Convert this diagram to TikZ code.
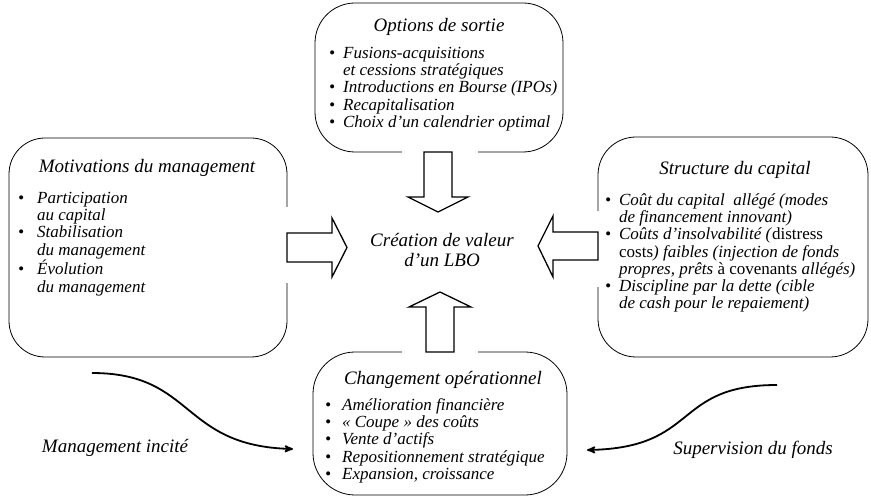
\documentclass[tikz,border=0pt]{standalone}
\usepackage{fontspec}
\setmainfont{Liberation Serif}
\usepackage{tikz}
\usetikzlibrary{arrows,positioning}

\begin{document}
\begin{tikzpicture}[x=1pt,y=-1pt,>=stealth',
  panel/.style={draw,line width=0.8pt,inner sep=0pt},
  titre/.style={inner sep=0pt,font=\fontsize{19}{19}\selectfont\itshape},
  liste/.style={inner sep=0pt,anchor=base west,font=\fontsize{17}{17.2}\selectfont\itshape},
  centre/.style={inner sep=0pt,align=center,font=\fontsize{19}{19.5}\selectfont\itshape},
  fleche/.style={draw,fill=white,line width=1.3pt,line join=miter},
  cache/.style={fill=white,draw=none},
  courbe/.style={->,line width=1.8pt}]
  \useasboundingbox (0,0) rectangle (871,497);

  % les quatre cadres
  \node[panel,rounded corners=40pt,minimum width=248pt,minimum height=149pt] (sortie) at (439,77.5) {};
  \node[panel,rounded corners=36pt,minimum width=278pt,minimum height=219pt] (motiv) at (148,247.5) {};
  \node[panel,rounded corners=38pt,minimum width=270pt,minimum height=220pt] (capital) at (733,247) {};
  \node[panel,rounded corners=42pt,minimum width=254pt,minimum height=143pt] (operat) at (440,423.5) {};

  % ouvertures dans les cadres
  \fill[cache] (402,146) rectangle (478,158);
  \fill[cache] (402,346) rectangle (478,358);
  \fill[cache] (281,207) rectangle (293,283);
  \fill[cache] (592,211) rectangle (604,287);

  % grosses fleches
  \node[centre] (lbo) at (442,250) {Création de valeur\\d’un LBO};
  \draw[fleche] (424,152) -- (424,197) -- (408,197) -- (438,212) -- (468,197) -- (452,197) -- (452,152) -- cycle;
  \draw[fleche] (426,352) -- (426,307) -- (409,307) -- (440,292) -- (471,307) -- (454,307) -- (454,352) -- cycle;
  \draw[fleche] (287,233) -- (332,233) -- (332,218) -- (347,247.5) -- (332,277) -- (332,262) -- (287,262) -- cycle;
  \draw[fleche] (598,232) -- (553,232) -- (553,216) -- (538,246) -- (553,277) -- (553,260) -- (598,260) -- cycle;

  % titres
  \node[titre] (sortieT) at (439,27) {Options de sortie};
  \node[titre] (motivT) at (147,168) {Motivations du management};
  \node[titre] (capitalT) at (735,170) {Structure du capital};
  \node[titre] (operatT) at (443,380) {Changement opérationnel};

  % listes
  \node[liste] (sortieL) at (329,58.5) {\begin{tabular}[t]{@{}l@{\hspace{8pt}}l@{}}
    \textbullet & Fusions-acquisitions\\
    & et cessions stratégiques\\
    \textbullet & Introductions en Bourse (IPOs)\\
    \textbullet & Recapitalisation\\
    \textbullet & Choix d’un calendrier optimal
  \end{tabular}};
  \node[liste] (motivL) at (18,203.5) {\begin{tabular}[t]{@{}l@{\hspace{13pt}}l@{}}
    \textbullet & Participation\\
    & au capital\\
    \textbullet & Stabilisation\\
    & du management\\
    \textbullet & Évolution\\
    & du management
  \end{tabular}};
  \node[liste] (capitalL) at (605,205.5) {\begin{tabular}[t]{@{}l@{\hspace{8pt}}l@{}}
    \textbullet & Coût du capital\ \ allégé (modes\\
    & de financement innovant)\\
    \textbullet & Coûts d’insolvabilité (\textup{distress}\\
    & \textup{costs}) faibles (injection de fonds\\
    & propres, prêts \textup{à covenants} allégés)\\
    \textbullet & Discipline par la dette (cible\\
    & de cash pour le repaiement)
  \end{tabular}};
  \node[liste] (operatL) at (325,410.5) {\begin{tabular}[t]{@{}l@{\hspace{11pt}}l@{}}
    \textbullet & Amélioration financière\\
    \textbullet & « Coupe » des coûts\\
    \textbullet & Vente d’actifs\\
    \textbullet & Repositionnement stratégique\\
    \textbullet & Expansion, croissance
  \end{tabular}};

  % fleches courbes
  \coordinate (incA) at (92,373);
  \coordinate (incB) at (293,449);
  \coordinate (supA) at (777,385);
  \coordinate (supB) at (587,450);
  \draw[courbe] (incA) .. controls (195,373) and (180,446) .. (incB);
  \draw[courbe] (supA) .. controls (672,385) and (700,448) .. (supB);
  \node[titre] (incite) at (115,448) {Management incité};
  \node[titre] (superv) at (753,450) {Supervision du fonds};
\end{tikzpicture}
\end{document}
